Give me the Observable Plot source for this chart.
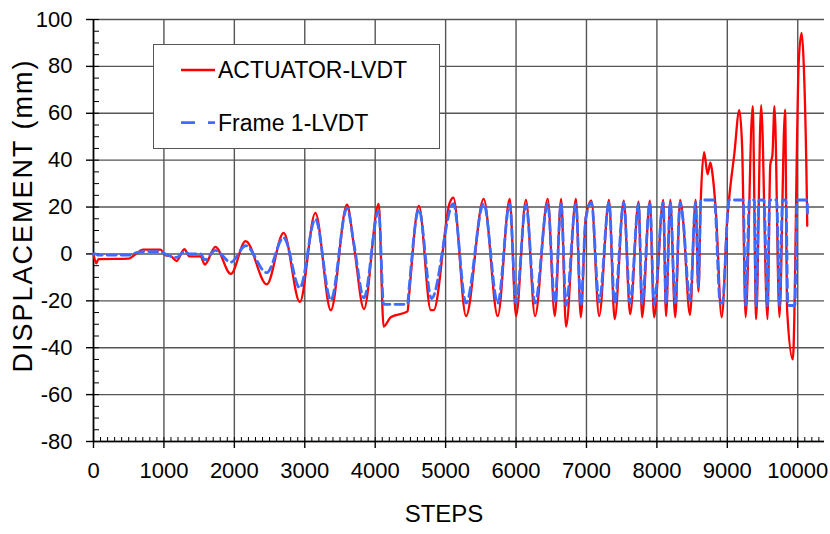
<!DOCTYPE html>
<html><head><meta charset="utf-8">
<script src="https://cdn.jsdelivr.net/npm/d3@7"></script>
<script src="https://cdn.jsdelivr.net/npm/@observablehq/plot@0.6"></script>
<style>
body{margin:0;background:#fff;overflow:hidden;}
#wrap{position:relative;width:830px;height:534px;font-family:"Liberation Sans",Arial,sans-serif;}
#legend{position:absolute;left:153px;top:44px;width:285px;height:103px;border:1px solid #555;background:#fff;}
#legend svg{position:absolute;left:0;top:0;}
</style></head><body><div id="wrap"></div>
<script>
// ---- data ----
const seriesNames = ["ACTUATOR-LVDT", "Frame 1-LVDT"];
const xTitle = "STEPS";
const yTitle = "DISPLACEMENT (mm)";

const redSteps = [0,40,70,500,600,700,950,1020,1100,1180,1290,1360,1520,1580,1730,1950,2160,2460,2700,2930,3150,3370,3600,3700,3840,4050,4120,4220,4460,4480,4620,4790,4830,5060,5110,5290,5540,5740,5910,6000,6140,6270,6450,6550,6640,6710,6850,6920,6990,7070,7180,7320,7400,7530,7620,7740,7790,7900,7960,8090,8130,8190,8260,8330,8370,8470,8550,8590,8620,8670,8720,8760,8790,8840,8920,9000,9030,9100,9170,9210,9260,9360,9410,9480,9570,9610,9640,9670,9740,9820,9850,9930,10015,10055,10085,10130,10135];
const redValues = [0,-4,-2.2,-2,0,1.8,1.8,-0.5,-1,-3,2,-1,-1,-4.5,3,-8.5,5.5,-13,9,-20.5,17.5,-24,21,3,-23.5,21.3,-31,-27,-24.5,-18,20.5,-24,-24,22,24,-26.5,23.5,-26.5,23.5,-26.5,23,-26.5,23.5,-26.5,23.5,-31,23.5,-27,15.5,22.7,-26.5,23,-27.8,22.7,-25.7,22.3,-27,22.7,-27,23,-26.5,23,-27,23,15,-26,23,-16,20,43.4,34,39,34,17,-27,15,25,42.8,61.3,46,-27,63,-27.8,63.5,-27.8,38,42,63,-27,61.6,-24.4,-45,82.6,94.3,81,22.7,12];

const blueSteps = [0,30,60,500,600,700,950,1020,1180,1290,1360,1520,1580,1730,1950,2160,2460,2700,2930,3150,3370,3600,3700,3840,4050,4120,4460,4480,4620,4800,5110,5290,5540,5740,5910,6000,6140,6270,6450,6550,6640,6710,6850,6920,6990,7070,7180,7320,7400,7530,7620,7740,7790,7900,7960,8090,8130,8190,8260,8330,8370,8470,8550,8590,8625,8815,8900,8930,9025,9226,9260,9315,9382,9410,9449,9520,9570,9601,9701,9740,9785,9833,9860,9960,9990,10135,10140];
const blueValues = [0,0,-0.5,-0.5,0.5,1,1,0,-1.5,1,0,0,-2.5,1.5,-3.5,3.5,-8,7,-14.5,15,-19.7,19.5,4,-18.7,18.5,-21.5,-21.5,-15,19,-19,21.5,-21,21.5,-21,21.5,-21,21,-21,21.5,-21,21.5,-22,21.5,-22,15,22,-20.5,22,-21,22,-21,21.5,-21,22,-21.5,22,-21,22,-21,22,15,-20,22,-14,23,23,-21,-21,23,23,-22,23,23,-22,23,23,-22,23,23,-22,23,23,-22,-22,23,23,16];

const xMajorTicks = d3.range(0, 10001, 1000);
const yMajorTicks = d3.range(-80, 101, 20);
const xMinorTicks = d3.range(0, 10301, 100);
const yMinorTicks = d3.range(-80, 101, 5);

const red = redSteps.map((s, i) => ({step: s, value: redValues[i]}));
const blue = blueSteps.map((s, i) => ({step: s, value: blueValues[i]}));

const font = "Liberation Sans, Arial, sans-serif";
const gridStroke = "#555";

const plot = Plot.plot({
  width: 830, height: 534,
  marginLeft: 93, marginRight: 6, marginTop: 19, marginBottom: 93,
  style: {fontFamily: font, fontSize: "22px", color: "#000", background: "#fff"},
  x: {domain: [0, 10380]},
  y: {domain: [-80, 100]},
  marks: [
    Plot.gridX(xMajorTicks, {stroke: gridStroke, strokeOpacity: 1, strokeWidth: 1.4}),
    Plot.gridY(yMajorTicks, {stroke: gridStroke, strokeOpacity: 1, strokeWidth: 1.4}),
    Plot.axisX(xMinorTicks, {anchor: "top", frameAnchor: "bottom", tickSize: 5, tickFormat: () => "", label: null, stroke: "#000"}),
    Plot.axisY(yMinorTicks, {anchor: "right", frameAnchor: "left", tickSize: 5, tickFormat: () => "", label: null, stroke: "#000"}),
    Plot.axisX(xMajorTicks, {anchor: "bottom", tickSize: 7, tickPadding: 14, fontSize: 22, label: null, tickFormat: d => String(d), stroke: "#000", strokeWidth: 1.4}),
    Plot.axisY(yMajorTicks, {anchor: "left", tickSize: 7, tickPadding: 14, fontSize: 22, label: null, tickFormat: d => String(d), stroke: "#000", strokeWidth: 1.4}),
    Plot.ruleY([-80], {stroke: "#000", strokeWidth: 1.6}),
    Plot.ruleX([0], {stroke: "#000", strokeWidth: 1.6}),
    Plot.line(red, {x: "step", y: "value", stroke: "#ff0000", strokeWidth: 2.3, curve: "monotone-x"}),
    Plot.line(blue, {x: "step", y: "value", stroke: "#3d6cff", strokeWidth: 2.8, strokeDasharray: "9,5", curve: "monotone-x"}),
    Plot.text([xTitle], {text: d => d, frameAnchor: "bottom", dy: 80, dx: -15, fontSize: 24, fill: "#000"}),
    Plot.text([yTitle], {text: d => d, frameAnchor: "left", textAnchor: "middle", dx: -70, dy: -14, rotate: -90, fontSize: 27, fill: "#000"})
  ]
});

const wrap = document.getElementById("wrap");
wrap.appendChild(plot);

// stretch the vertical title to the length it has in the reference
d3.select(plot).selectAll("text").filter(function() { return this.textContent === yTitle; })
  .attr("textLength", 312).attr("lengthAdjust", "spacing");

// legend box
const legend = d3.select(wrap).append("div").attr("id", "legend");
const lsvg = legend.append("svg").attr("width", 285).attr("height", 103);
const legendStyles = [
  {stroke: "#ff0000", width: 2.3, dash: null, y: 25, ty: 33},
  {stroke: "#3d6cff", width: 2.8, dash: "14,13", y: 77.7, ty: 85.5}
];
seriesNames.forEach((name, i) => {
  const s = legendStyles[i];
  lsvg.append("line").attr("x1", 27).attr("x2", 61).attr("y1", s.y).attr("y2", s.y)
    .attr("stroke", s.stroke).attr("stroke-width", s.width).attr("stroke-dasharray", s.dash);
  lsvg.append("text").attr("x", 64).attr("y", s.ty).attr("font-size", 23)
    .attr("font-family", font).attr("fill", "#000").text(name);
});
</script></body></html>
